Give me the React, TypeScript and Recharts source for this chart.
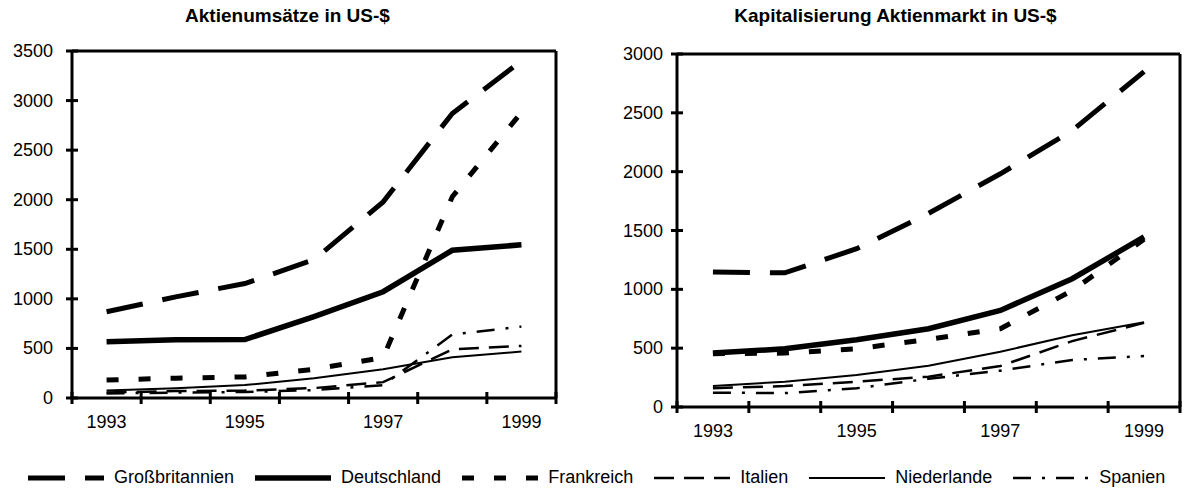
import React from "react";
import { LineChart, Line, XAxis, YAxis, ReferenceLine } from "recharts";

const years = [1993, 1994, 1995, 1996, 1997, 1998, 1999];
const yearLabels = [1993, 1995, 1997, 1999];

// Aktienumsätze in US-$
const turnoverGB = [870, 1020, 1155, 1395, 1978, 2870, 3400];
const turnoverDE = [568, 588, 590, 820, 1072, 1490, 1545];
const turnoverFR = [182, 200, 213, 290, 408, 2030, 2880];
const turnoverIT = [55, 70, 75, 100, 160, 490, 525];
const turnoverNL = [75, 98, 130, 200, 290, 410, 468];
const turnoverES = [45, 55, 60, 80, 130, 640, 720];

// Kapitalisierung Aktienmarkt in US-$
const capGB = [1148, 1140, 1345, 1645, 1982, 2350, 2850];
const capDE = [458, 495, 572, 665, 821, 1090, 1445];
const capFR = [453, 458, 495, 575, 665, 990, 1425];
const capIT = [160, 178, 215, 258, 348, 560, 715];
const capNL = [178, 215, 272, 350, 470, 610, 720];
const capES = [122, 118, 159, 240, 309, 400, 433];

const countries = ["Großbritannien", "Deutschland", "Frankreich", "Italien", "Niederlande", "Spanien"];
const seriesKeys = ["gb", "de", "fr", "it", "nl", "es"];

const turnoverTicks = [0, 500, 1000, 1500, 2000, 2500, 3000, 3500];
const capTicks = [0, 500, 1000, 1500, 2000, 2500, 3000];

const FONT = "'Liberation Sans', Arial, Helvetica, sans-serif";

// line look per series (same order as seriesKeys)
const lineStyle: Record<string, { w: number; dash?: string }> = {
  gb: { w: 5, dash: "37 20" },
  de: { w: 5.5 },
  fr: { w: 5, dash: "12 20" },
  it: { w: 2.5, dash: "20 10" },
  nl: { w: 2 },
  es: { w: 2.5, dash: "18 11 3 11" },
};

function buildRows(gb: number[], de: number[], fr: number[], it: number[], nl: number[], es: number[]) {
  return years.map((year, i) => ({ year, gb: gb[i], de: de[i], fr: fr[i], it: it[i], nl: nl[i], es: es[i] }));
}

const turnoverRows = buildRows(turnoverGB, turnoverDE, turnoverFR, turnoverIT, turnoverNL, turnoverES);
const capRows = buildRows(capGB, capDE, capFR, capIT, capNL, capES);

const xMin = years[0] - 0.5;
const xMax = years[years.length - 1] + 0.5;
const boundaryTicks = [...years.map((y) => y - 0.5), xMax];
const xTicks = [...boundaryTicks, ...yearLabels].sort((a, b) => a - b);

function XTick(props: any) {
  const { x, y, payload } = props;
  const v = payload.value;
  if (Number.isInteger(v)) {
    return (
      <text x={x} y={y + 24} textAnchor="middle" dominantBaseline="central" fontSize={18} fontFamily={FONT} fill="#000">
        {v}
      </text>
    );
  }
  return <line x1={x} x2={x} y1={y - 6} y2={y + 6} stroke="#000" strokeWidth={3} />;
}

function makeYTick(gap: number) {
  return function YTick(props: any) {
    const { x, y, payload } = props;
    return (
      <g>
        <line x1={x - 6} x2={x + 6} y1={y} y2={y} stroke="#000" strokeWidth={3} />
        <text x={x - gap} y={y} textAnchor="end" dominantBaseline="central" fontSize={18} fontFamily={FONT} fill="#000">
          {payload.value}
        </text>
      </g>
    );
  };
}

interface PanelProps {
  title: string;
  rows: any[];
  yTicks: number[];
  left: number;
  width: number;
  height: number;
  axisWidth: number;
  labelGap: number;
  margin: { top: number; right: number; left: number; bottom: number };
}

function Panel({ title, rows, yTicks, left, width, height, axisWidth, labelGap, margin }: PanelProps) {
  const yMax = yTicks[yTicks.length - 1];
  return (
    <div style={{ position: "absolute", left, top: 0, width, height }}>
      <div
        style={{
          position: "absolute",
          left: 0,
          top: 4,
          width,
          textAlign: "center",
          fontFamily: FONT,
          fontWeight: "bold",
          fontSize: 19,
          lineHeight: "24px",
        }}
      >
        {title}
      </div>
      <LineChart width={width} height={height} data={rows} margin={margin}>
        <XAxis
          dataKey="year"
          type="number"
          domain={[xMin, xMax]}
          allowDataOverflow
          ticks={xTicks}
          interval={0}
          tickSize={0}
          tickMargin={0}
          tickLine={false}
          tick={<XTick />}
          axisLine={{ stroke: "#000", strokeWidth: 3 }}
          height={30}
        />
        <YAxis
          type="number"
          domain={[0, yMax]}
          ticks={yTicks}
          interval={0}
          tickSize={0}
          tickMargin={0}
          tickLine={false}
          tick={makeYTick(labelGap)}
          axisLine={{ stroke: "#000", strokeWidth: 3 }}
          width={axisWidth}
        />
        <ReferenceLine y={yMax} stroke="#000" strokeWidth={3} />
        <ReferenceLine x={xMax} stroke="#000" strokeWidth={3} />
        {seriesKeys.map((k) => (
          <Line
            key={k}
            type="linear"
            dataKey={k}
            stroke="#000"
            strokeWidth={lineStyle[k].w}
            strokeDasharray={lineStyle[k].dash}
            dot={false}
            activeDot={false}
            isAnimationActive={false}
          />
        ))}
      </LineChart>
    </div>
  );
}

function LegendRow() {
  return (
    <div
      style={{
        position: "absolute",
        left: 28,
        top: 467,
        display: "flex",
        alignItems: "center",
        gap: 21,
        fontFamily: FONT,
        fontSize: 18,
        whiteSpace: "nowrap",
      }}
    >
      {seriesKeys.map((k, i) => (
        <div key={k} style={{ display: "flex", alignItems: "center" }}>
          <svg width={76} height={12}>
            <line
              x1={0}
              x2={76}
              y1={6}
              y2={6}
              stroke="#000"
              strokeWidth={lineStyle[k].w}
              strokeDasharray={lineStyle[k].dash}
            />
          </svg>
          <span style={{ marginLeft: 10 }}>{countries[i]}</span>
        </div>
      ))}
    </div>
  );
}

export default function App() {
  return (
    <div style={{ position: "absolute", left: 0, top: 0, width: 1191, height: 492, background: "#fff", overflow: "hidden" }}>
      <Panel
        title="Aktienumsätze in US-$"
        rows={turnoverRows}
        yTicks={turnoverTicks}
        left={0}
        width={575}
        height={440}
        axisWidth={72}
        labelGap={19}
        margin={{ top: 51, right: 19, left: 0, bottom: 12 }}
      />
      <Panel
        title="Kapitalisierung Aktienmarkt in US-$"
        rows={capRows}
        yTicks={capTicks}
        left={600}
        width={591}
        height={450}
        axisWidth={77}
        labelGap={14}
        margin={{ top: 54, right: 11, left: 0, bottom: 13 }}
      />
      <LegendRow />
    </div>
  );
}
